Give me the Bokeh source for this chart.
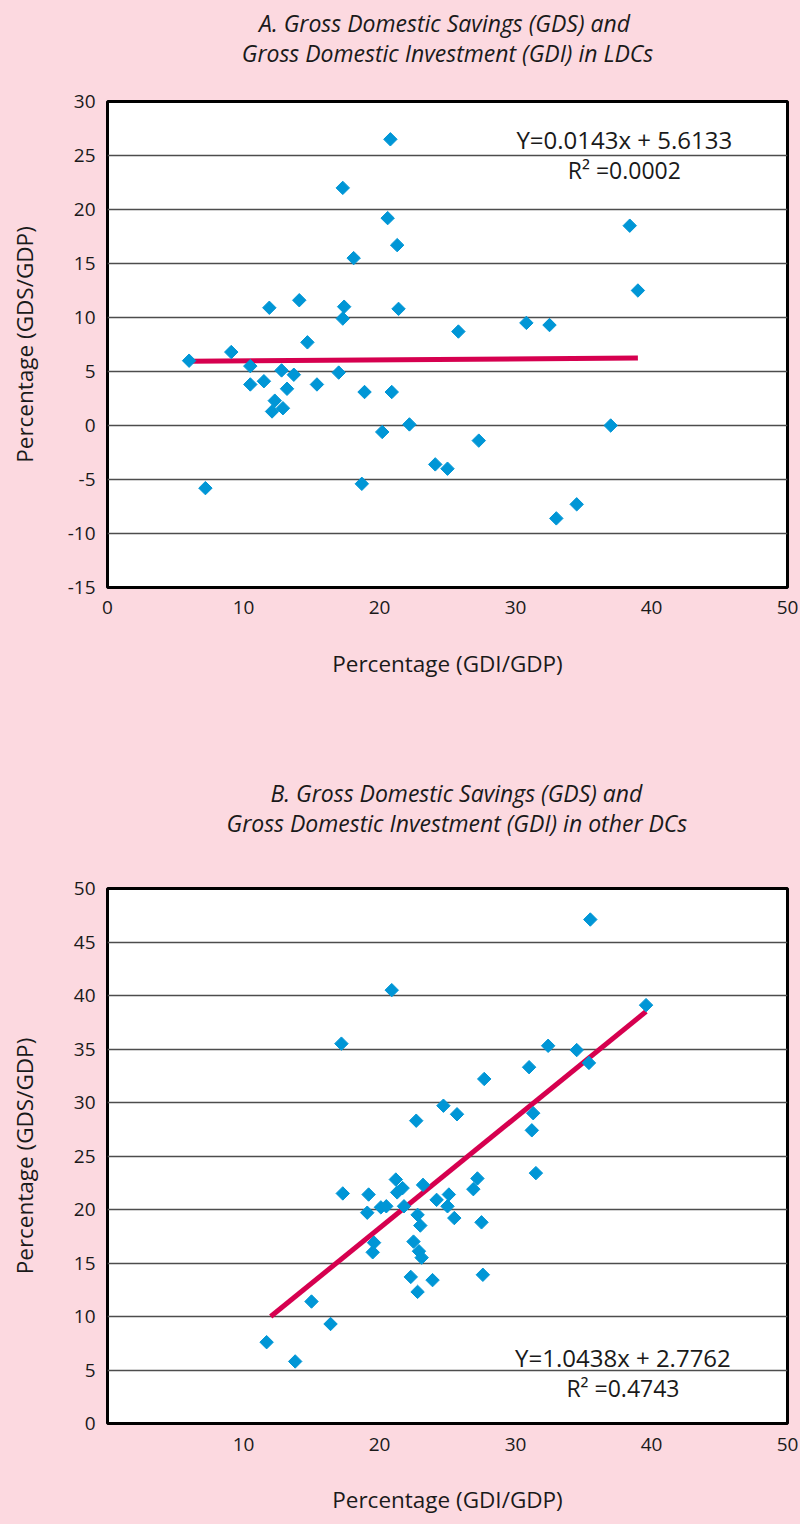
from bokeh.plotting import figure
from bokeh.models import Range1d, FixedTicker, Label, Title
from bokeh.layouts import column
from bokeh.embed import file_html
from bokeh.resources import INLINE
import numpy as np

BG = "#FCD9E0"
BLUE = "#0096D6"
RED = "#D6004F"
FONT = "Open Sans"
TXT = "#1a1a1a"

# ---- Panel A: LDCs ----
ldc_title1 = "A.  Gross Domestic Savings (GDS) and"
ldc_title2 = "Gross Domestic Investment (GDI) in LDCs"
ldc_gdi = [6.0, 7.2, 9.1, 10.5, 10.5, 11.5, 11.9, 12.1, 12.3, 12.8, 12.9, 13.2, 13.7, 14.1,
           14.7, 15.4, 17.0, 17.3, 17.3, 17.4, 18.1, 18.7, 18.9, 20.2, 20.6, 20.8, 20.9, 21.3,
           21.4, 22.2, 24.1, 25.0, 25.8, 27.3, 30.8, 32.5, 33.0, 34.5, 37.0, 38.4, 39.0]
ldc_gds = [6.0, -5.8, 6.8, 5.5, 3.8, 4.1, 10.9, 1.3, 2.3, 5.1, 1.6, 3.4, 4.7, 11.6,
           7.7, 3.8, 4.9, 22.0, 9.9, 11.0, 15.5, -5.4, 3.1, -0.6, 19.2, 26.5, 3.1, 16.7,
           10.8, 0.1, -3.6, -4.0, 8.7, -1.4, 9.5, 9.3, -8.6, -7.3, 0.0, 18.5, 12.5]
ldc_trend_x = [6.0, 39.0]
ldc_trend_y = [5.95, 6.25]
ldc_eq = "Y=0.0143x + 5.6133"
ldc_r2 = "R\u00b2 =0.0002"
ldc_x_ticks = [0, 10, 20, 30, 40, 50]
ldc_y_ticks = [-15, -10, -5, 0, 5, 10, 15, 20, 25, 30]

# ---- Panel B: other DCs ----
dc_title1 = "B. Gross Domestic Savings (GDS) and"
dc_title2 = "Gross Domestic Investment (GDI) in other DCs"
dc_gdi = [11.7, 13.8, 15.0, 16.4, 17.3, 17.2, 19.1, 19.2, 19.5, 19.6, 20.1, 20.5, 20.9, 21.2,
          21.3, 21.7, 21.8, 22.3, 22.5, 22.7, 22.8, 22.8, 22.9, 23.0, 23.1, 23.2, 23.9, 24.2,
          24.7, 25.0, 25.1, 25.5, 25.7, 26.9, 27.2, 27.5, 27.6, 27.7, 31.0, 31.3, 31.2, 31.5,
          32.4, 34.5, 35.4, 35.5, 39.6]
dc_gds = [7.6, 5.8, 11.4, 9.3, 21.5, 35.5, 19.7, 21.4, 16.0, 16.9, 20.2, 20.3, 40.5, 22.8,
          21.6, 22.0, 20.3, 13.7, 17.0, 28.3, 19.5, 12.3, 16.1, 18.5, 15.5, 22.3, 13.4, 20.9,
          29.7, 20.3, 21.4, 19.2, 28.9, 21.9, 22.9, 18.8, 13.9, 32.2, 33.3, 29.0, 27.4, 23.4,
          35.3, 34.9, 33.7, 47.1, 39.1]
dc_trend_x = [12.0, 39.6]
dc_trend_y = [10.0, 38.5]
dc_eq = "Y=1.0438x + 2.7762"
dc_r2 = "R\u00b2 =0.4743"
dc_x_ticks = [10, 20, 30, 40, 50]
dc_y_ticks = [0, 5, 10, 15, 20, 25, 30, 35, 40, 45, 50]

X_LABEL = "Percentage (GDI/GDP)"
Y_LABEL = "Percentage (GDS/GDP)"


def title(text, align, offset, standoff):
    return Title(text=text, align=align, offset=offset, standoff=standoff, text_font=FONT,
                 text_font_style="italic", text_font_size="23px", text_color=TXT)


def panel(t1, t2, t_align, t1_off, t2_off, gap, t1_standoff, xs, ys, tx, ty, eq, r2,
          eq_x, eq_y, r2_y, xt, yt, yr, height, top, bottom, right,
          xtick_standoff, xlab_standoff, ylab_standoff):
    p = figure(width=800, height=height, output_backend="svg", toolbar_location=None,
               x_range=Range1d(0, 50), y_range=Range1d(*yr),
               min_border_left=107, min_border_right=right,
               min_border_top=top, min_border_bottom=bottom)
    p.background_fill_color = "white"
    p.border_fill_color = BG
    p.outline_line_color = "black"
    p.outline_line_width = 3

    # spacer between frame and the two title lines (closest to the frame)
    p.add_layout(Title(text=" ", text_font_size="1px", standoff=gap), "above")
    p.add_layout(title(t2, t_align, t2_off, 0), "above")
    p.add_layout(title(t1, t_align, t1_off, t1_standoff), "above")

    for ax in (p.xaxis[0], p.yaxis[0]):
        ax.axis_line_color = None
        ax.major_tick_line_color = None
        ax.minor_tick_line_color = None
        ax.major_tick_out = 0
        ax.major_tick_in = 0
        ax.major_label_text_font = FONT
        ax.major_label_text_font_size = "19px"
        ax.major_label_text_color = TXT
        ax.axis_label_text_font = FONT
        ax.axis_label_text_font_size = "22.5px"
        ax.axis_label_text_font_style = "normal"
        ax.axis_label_text_color = TXT
    p.xaxis.ticker = FixedTicker(ticks=xt)
    p.yaxis.ticker = FixedTicker(ticks=yt)
    p.yaxis.major_label_overrides = {t: str(t) for t in yt}
    p.xaxis.major_label_overrides = {t: str(t) for t in xt}
    p.xaxis.major_label_standoff = xtick_standoff
    p.yaxis.major_label_standoff = 12
    p.xaxis.axis_label = X_LABEL
    p.yaxis.axis_label = Y_LABEL
    p.xaxis.axis_label_standoff = xlab_standoff
    p.yaxis.axis_label_standoff = ylab_standoff

    p.xgrid.grid_line_color = None
    p.ygrid.ticker = FixedTicker(ticks=yt)
    p.ygrid.grid_line_color = "#4d4d4d"
    p.ygrid.grid_line_width = 1.3

    p.line(tx, ty, line_color=RED, line_width=5)
    p.scatter(xs, ys, marker="square", angle=np.pi / 4, size=9.5,
              fill_color=BLUE, line_color=BLUE)

    p.add_layout(Label(x=eq_x, y=eq_y, text=eq, text_align="center", text_baseline="middle",
                       text_font=FONT, text_font_size="24px", text_color=TXT))
    p.add_layout(Label(x=eq_x, y=r2_y, text=r2, text_align="center", text_baseline="middle",
                       text_font=FONT, text_font_size="23px", text_color=TXT))
    return p


pa = panel(ldc_title1, ldc_title2, "center", 0, 0, 30, -9, ldc_gdi, ldc_gds,
           ldc_trend_x, ldc_trend_y, ldc_eq, ldc_r2, 38.0, 26.5, 23.66,
           ldc_x_ticks, ldc_y_ticks, (-15, 30), 760, 101, 173, 11, 13, 31, 25)
pb = panel(dc_title1, dc_title2, "left", 163, 119, 47, -8, dc_gdi, dc_gds,
           dc_trend_x, dc_trend_y, dc_eq, dc_r2, 37.9, 6.17, 3.35,
           dc_x_ticks, dc_y_ticks, (0, 50), 764, 128, 101, 13, 14, 30, 31)

layout = column(pa, pb, spacing=0, styles={"background-color": BG})
html = file_html(layout, INLINE)
html = html.replace("<body>", '<body style="background-color:%s;">' % BG, 1)
open("out.html", "w").write(html)
